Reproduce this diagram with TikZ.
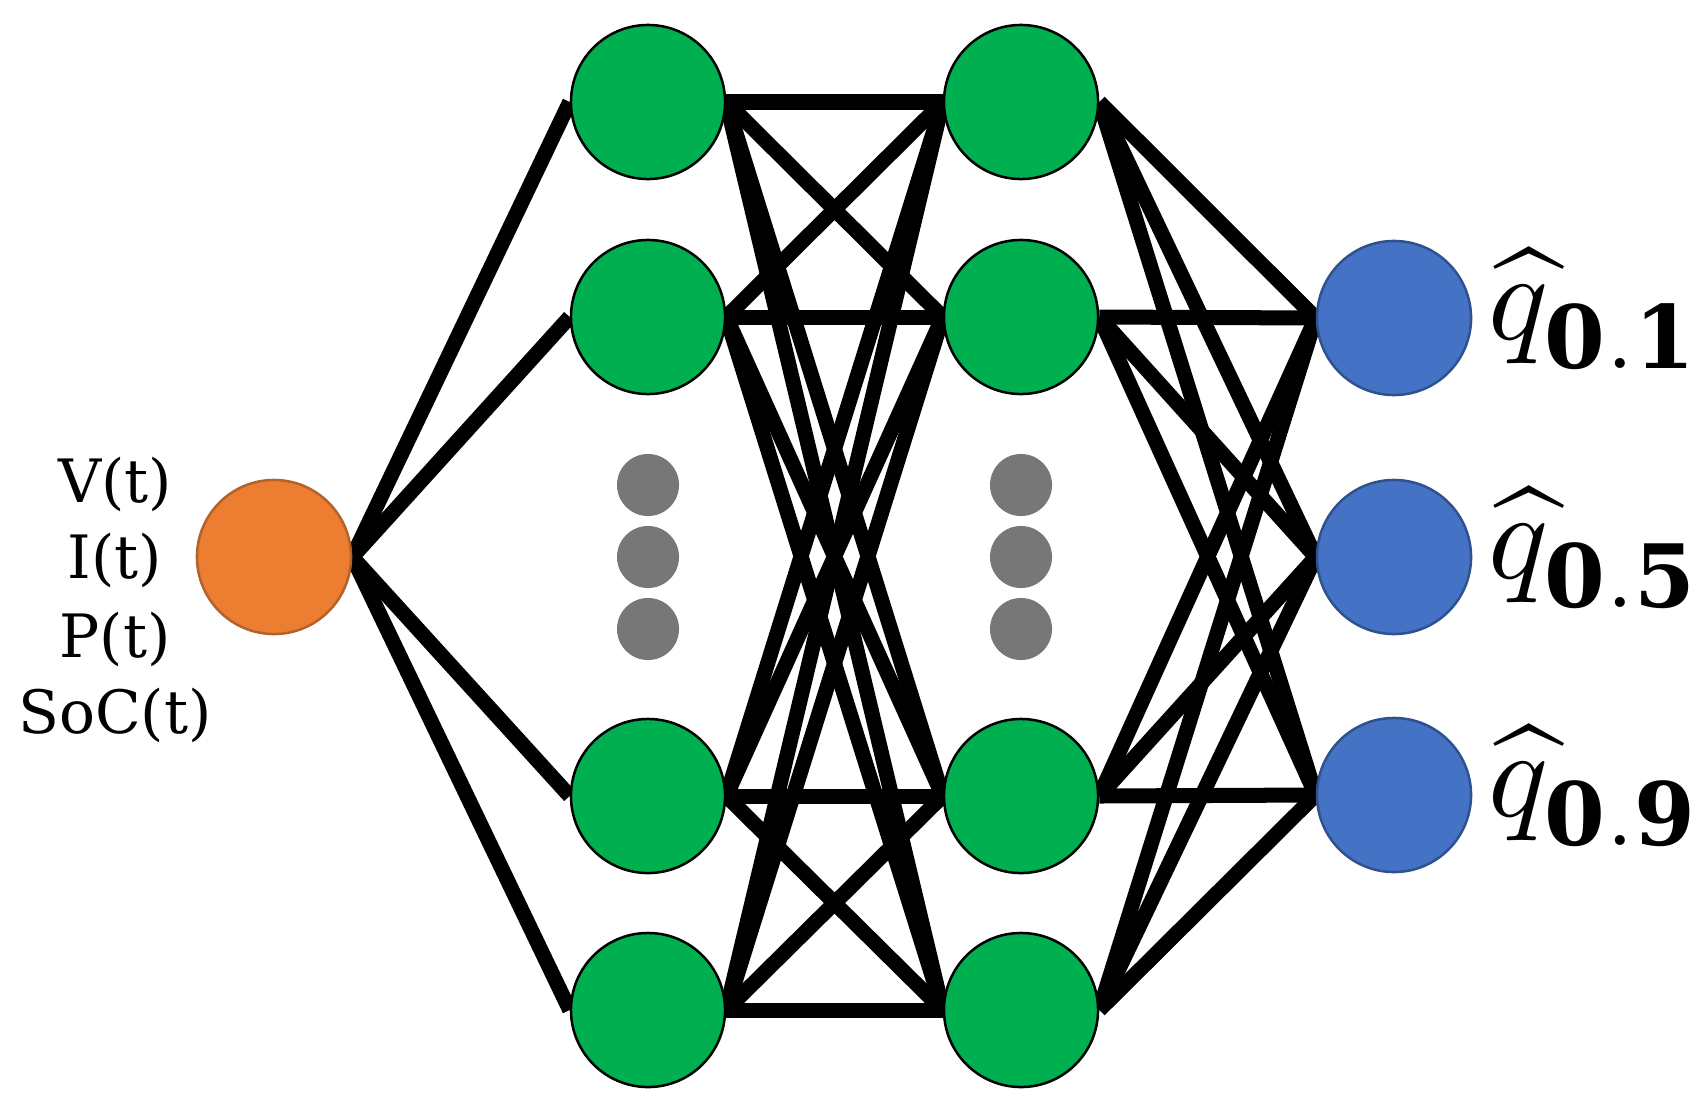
\documentclass[tikz,border=0pt]{standalone}
\usepackage{fontspec}
\usepackage{graphicx}
\setmainfont{DejaVu Serif}
\usetikzlibrary{backgrounds}
\definecolor{gorange}{HTML}{ED7D31}
\definecolor{gorangeb}{HTML}{B4612A}
\definecolor{ggreen}{HTML}{00B050}
\definecolor{gblue}{HTML}{4472C4}
\definecolor{gblueb}{HTML}{2F528F}
\definecolor{ggray}{HTML}{777777}
\newcommand{\qlab}[1]{\scalebox{3.55}{$\widehat{q}_{\lower0.9pt\hbox{$\scriptstyle\mathbf{#1}$}}$}}
\begin{document}
\begin{tikzpicture}[x=0.01cm,y=-0.01cm,
  neuron/.style={circle,inner sep=0pt,minimum size=1.54cm,line width=0.25mm},
  innode/.style={neuron,fill=gorange,draw=gorangeb},
  hid/.style={neuron,fill=ggreen,draw=black},
  outnode/.style={neuron,fill=gblue,draw=gblueb},
  dotnode/.style={circle,inner sep=0pt,minimum size=0.62cm,fill=ggray},
  link/.style={line width=0.15cm,black},
  inlabel/.style={anchor=base,font=\fontsize{17}{22}\selectfont,inner sep=0pt},
  outlabel/.style={anchor=base west,inner sep=0pt}]
\useasboundingbox (0,0) rectangle (1707,1112);
% nodes
\node[innode] (in) at (274,557) {};
\foreach \i/\y in {1/102,2/317,3/796,4/1010}{
  \node[hid] (a\i) at (648,\y) {};
  \node[hid] (b\i) at (1021,\y) {};
}
\foreach \i/\y in {1/318,2/557,3/795}
  \node[outnode] (o\i) at (1394,\y) {};
\foreach \x/\c in {648/a,1021/b}
  \foreach \y/\k in {485/1,557/2,629/3}
    \node[dotnode] (dot\c\k) at (\x,\y) {};
% connectors
\begin{pgfonlayer}{background}
\foreach \i in {1,...,4}
  \draw[link] (in.east) -- (a\i.west);
\foreach \i in {1,...,4}
  \foreach \j in {1,...,4}
    \draw[link] (a\i.east) -- (b\j.west);
\foreach \i in {1,...,4}
  \foreach \j in {1,2,3}
    \draw[link] (b\i.east) -- (o\j.west);
\end{pgfonlayer}
% input labels
\node[inlabel] (lv) at (115,502) {V(t)};
\node[inlabel] (li) at (115,578) {I(t)};
\node[inlabel] (lp) at (115,657) {P(t)};
\node[inlabel] (ls) at (115,733) {SoC(t)};
% output labels
\node[outlabel] (q1) at (1488,339) {\qlab{0.1}};
\node[outlabel] (q2) at (1488,578) {\qlab{0.5}};
\node[outlabel] (q3) at (1488,816) {\qlab{0.9}};
\end{tikzpicture}
\end{document}
